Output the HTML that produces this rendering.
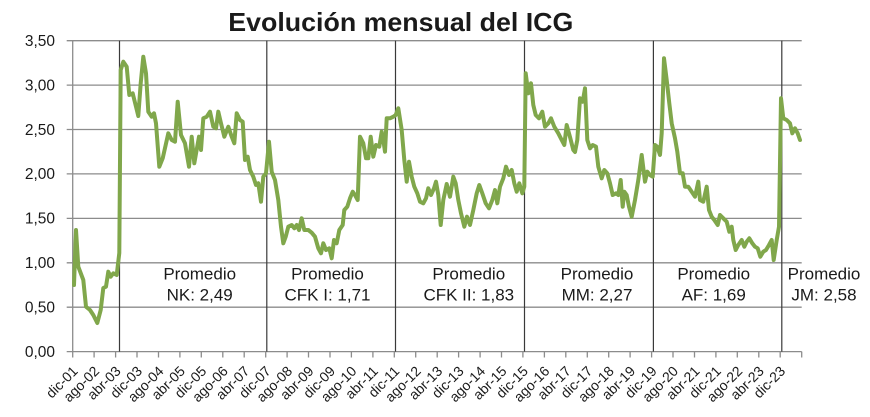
<!DOCTYPE html>
<html>
<head>
<meta charset="utf-8">
<style>
html,body{margin:0;padding:0;background:#fff;}
svg{display:block;}
text{font-family:"Liberation Sans",sans-serif;fill:#1a1a1a;}
</style>
</head>
<body>
<svg width="870" height="417" viewBox="0 0 870 417" xmlns="http://www.w3.org/2000/svg">
<rect width="870" height="417" fill="#fff"/>
<text x="400.8" y="31" text-anchor="middle" font-size="26" font-weight="bold" textLength="345" lengthAdjust="spacingAndGlyphs" fill="#111">Evolución mensual del ICG</text>

<g stroke="#8c8c8c" stroke-width="1.3" fill="none">
<line x1="66.7" y1="40.7" x2="801.7" y2="40.7"/>
<line x1="66.7" y1="85.1" x2="801.7" y2="85.1"/>
<line x1="66.7" y1="129.5" x2="801.7" y2="129.5"/>
<line x1="66.7" y1="173.9" x2="801.7" y2="173.9"/>
<line x1="66.7" y1="218.4" x2="801.7" y2="218.4"/>
<line x1="66.7" y1="262.8" x2="801.7" y2="262.8"/>
<line x1="66.7" y1="307.2" x2="801.7" y2="307.2"/>
<line x1="66.7" y1="351.6" x2="801.7" y2="351.6"/>
<line x1="72.7" y1="40.7" x2="72.7" y2="351.6"/>
</g>

<g stroke="#8c8c8c" stroke-width="1.3">
<line x1="72.7" y1="351.6" x2="72.7" y2="357.5"/><line x1="94.1" y1="351.6" x2="94.1" y2="357.5"/><line x1="115.6" y1="351.6" x2="115.6" y2="357.5"/><line x1="137.0" y1="351.6" x2="137.0" y2="357.5"/><line x1="158.5" y1="351.6" x2="158.5" y2="357.5"/><line x1="179.9" y1="351.6" x2="179.9" y2="357.5"/><line x1="201.3" y1="351.6" x2="201.3" y2="357.5"/><line x1="222.8" y1="351.6" x2="222.8" y2="357.5"/><line x1="244.2" y1="351.6" x2="244.2" y2="357.5"/><line x1="265.7" y1="351.6" x2="265.7" y2="357.5"/><line x1="287.1" y1="351.6" x2="287.1" y2="357.5"/><line x1="308.5" y1="351.6" x2="308.5" y2="357.5"/><line x1="330.0" y1="351.6" x2="330.0" y2="357.5"/><line x1="351.4" y1="351.6" x2="351.4" y2="357.5"/><line x1="372.9" y1="351.6" x2="372.9" y2="357.5"/><line x1="394.3" y1="351.6" x2="394.3" y2="357.5"/><line x1="415.7" y1="351.6" x2="415.7" y2="357.5"/><line x1="437.2" y1="351.6" x2="437.2" y2="357.5"/><line x1="458.6" y1="351.6" x2="458.6" y2="357.5"/><line x1="480.1" y1="351.6" x2="480.1" y2="357.5"/><line x1="501.5" y1="351.6" x2="501.5" y2="357.5"/><line x1="522.9" y1="351.6" x2="522.9" y2="357.5"/><line x1="544.4" y1="351.6" x2="544.4" y2="357.5"/><line x1="565.8" y1="351.6" x2="565.8" y2="357.5"/><line x1="587.3" y1="351.6" x2="587.3" y2="357.5"/><line x1="608.7" y1="351.6" x2="608.7" y2="357.5"/><line x1="630.1" y1="351.6" x2="630.1" y2="357.5"/><line x1="651.6" y1="351.6" x2="651.6" y2="357.5"/><line x1="673.0" y1="351.6" x2="673.0" y2="357.5"/><line x1="694.5" y1="351.6" x2="694.5" y2="357.5"/><line x1="715.9" y1="351.6" x2="715.9" y2="357.5"/><line x1="737.3" y1="351.6" x2="737.3" y2="357.5"/><line x1="758.8" y1="351.6" x2="758.8" y2="357.5"/><line x1="780.2" y1="351.6" x2="780.2" y2="357.5"/><line x1="801.7" y1="351.6" x2="801.7" y2="357.5"/>
</g>

<g stroke="#3a3a3a" stroke-width="1.2">
<line x1="119.5" y1="40.7" x2="119.5" y2="351.6"/>
<line x1="266.8" y1="40.7" x2="266.8" y2="351.6"/>
<line x1="395.5" y1="40.7" x2="395.5" y2="351.6"/>
<line x1="524.5" y1="40.7" x2="524.5" y2="351.6"/>
<line x1="653.4" y1="40.7" x2="653.4" y2="351.6"/>
<line x1="781.8" y1="40.7" x2="781.8" y2="351.6"/>
</g>

<g font-size="15.5" text-anchor="end">
<text x="55" y="46">3,50</text>
<text x="55" y="90.4">3,00</text>
<text x="55" y="134.8">2,50</text>
<text x="55" y="179.2">2,00</text>
<text x="55" y="223.7">1,50</text>
<text x="55" y="268.1">1,00</text>
<text x="55" y="312.5">0,50</text>
<text x="55" y="356.9">0,00</text>
</g>

<g font-size="14" text-anchor="end">
<text transform="translate(78.7,372) rotate(-45)">dic-01</text>
<text transform="translate(100.1,372) rotate(-45)">ago-02</text>
<text transform="translate(121.6,372) rotate(-45)">abr-03</text>
<text transform="translate(143.0,372) rotate(-45)">dic-03</text>
<text transform="translate(164.5,372) rotate(-45)">ago-04</text>
<text transform="translate(185.9,372) rotate(-45)">abr-05</text>
<text transform="translate(207.3,372) rotate(-45)">dic-05</text>
<text transform="translate(228.8,372) rotate(-45)">ago-06</text>
<text transform="translate(250.2,372) rotate(-45)">abr-07</text>
<text transform="translate(271.7,372) rotate(-45)">dic-07</text>
<text transform="translate(293.1,372) rotate(-45)">ago-08</text>
<text transform="translate(314.5,372) rotate(-45)">abr-09</text>
<text transform="translate(336.0,372) rotate(-45)">dic-09</text>
<text transform="translate(357.4,372) rotate(-45)">ago-10</text>
<text transform="translate(378.9,372) rotate(-45)">abr-11</text>
<text transform="translate(400.3,372) rotate(-45)">dic-11</text>
<text transform="translate(421.7,372) rotate(-45)">ago-12</text>
<text transform="translate(443.2,372) rotate(-45)">abr-13</text>
<text transform="translate(464.6,372) rotate(-45)">dic-13</text>
<text transform="translate(486.1,372) rotate(-45)">ago-14</text>
<text transform="translate(507.5,372) rotate(-45)">abr-15</text>
<text transform="translate(528.9,372) rotate(-45)">dic-15</text>
<text transform="translate(550.4,372) rotate(-45)">ago-16</text>
<text transform="translate(571.8,372) rotate(-45)">abr-17</text>
<text transform="translate(593.3,372) rotate(-45)">dic-17</text>
<text transform="translate(614.7,372) rotate(-45)">ago-18</text>
<text transform="translate(636.1,372) rotate(-45)">abr-19</text>
<text transform="translate(657.6,372) rotate(-45)">dic-19</text>
<text transform="translate(679.0,372) rotate(-45)">ago-20</text>
<text transform="translate(700.5,372) rotate(-45)">abr-21</text>
<text transform="translate(721.9,372) rotate(-45)">dic-21</text>
<text transform="translate(743.3,372) rotate(-45)">ago-22</text>
<text transform="translate(764.8,372) rotate(-45)">abr-23</text>
<text transform="translate(786.2,372) rotate(-45)">dic-23</text>
</g>

<g font-size="17" text-anchor="middle">
<text x="199.7" y="279.5">Promedio</text><text x="199.7" y="300.5">NK: 2,49</text>
<text x="327.5" y="279.5">Promedio</text><text x="327.5" y="300.5">CFK I: 1,71</text>
<text x="468.8" y="279.5">Promedio</text><text x="468.8" y="300.5">CFK II: 1,83</text>
<text x="597" y="279.5">Promedio</text><text x="597" y="300.5">MM: 2,27</text>
<text x="713.7" y="279.5">Promedio</text><text x="713.7" y="300.5">AF: 1,69</text>
<text x="824" y="279.5">Promedio</text><text x="824" y="300.5">JM: 2,58</text>
</g>

<polyline fill="none" stroke="#80a74b" stroke-width="4" stroke-linejoin="round" stroke-linecap="round" points="
74,285 76,230 78.3,266.7 83.3,280 86,306.7 90,310 93.3,315 97.3,323 100.7,310 103.3,288 106,286.7 108.3,271.7 110.7,276.7 113.3,273.3 116.7,275 119.3,253 120.7,70 123.3,61.7 126.7,66.7 129.3,95 132.7,93.3 136,106.7 138.3,116 140.7,83.3 143.3,56.7 146,73.3 148.3,111.7 151.7,116.7 154,113.3 156,123.3 159.3,166.7 162.7,158.3 168.3,133.3 171.7,140 175,141.7 177.7,101.7 181,135 185,143.3 189,166.7 191.7,136.7 194.3,163.3
199,136.7 201,150 203.3,118.3 206.7,116.7 210,111.7 213.3,126.7 216,128.3 218.3,111.7 221,123.3 224.3,136.7 228.3,126.7 231.7,136.7 234.3,143.3 236.7,113.3 240,120 242.7,121.7 245,160 247.7,156.7 250,170 253.3,176.7 256,185 258.3,183.3 261,201.7 263.3,176.7 266,173.3 269,141.7 271.7,171.7 275,180 278.3,200 281,226.7 283.3,243.3 285.7,236.7 288.3,226.7 291.7,225 294.3,228.3 296.7,225 299,230 301.7,218.3 304.3,230 308.3,230 311.7,232.7 315,236.7 318.3,248.3 321,253.3
323.3,243.3 326,250 329.3,248.3 331.7,258.3 334,240 336.7,243.3 339.3,230 342.7,225 344.3,210 347.3,206.7 350,198.3 352.7,191.7 355,195 357.7,200 360,136.7 363.3,143.3 366,158.3 368.3,158.3 370.7,136.7 373.3,156.7 376,145 379.3,146.7 381.7,131.7 383.3,140 385,151.7 386.7,118.3 390,118.3 393.3,116.7 395.7,115 398.3,108.3 401.7,130 404.3,160 406.7,181.7 409,161.7 411.7,176.7 414.3,186.7 417.3,193.3 420,201.7 423.3,203.3 426,198.3 428.3,188.3 431,195 434,188.3 436,181.7 438.3,195 440.7,225 443.3,200 446.7,184
450,196.7 453.3,176.7 455.7,183.3 458.3,200 461,213.3 464.3,226.7 467,216.7 470,225 473.3,210 476.7,193.3 479.3,185 482.3,193.3 485.7,203.3 489,208.3 492.3,200 495,190 497.3,203.3 500,186.7 503.3,178.3 506,166.7 509,175 511.7,170 514.3,183.3 516.7,191.7 519.3,183.3 522.3,193.3 524.3,186.7 525.7,73.3 528.3,93.3 531,83.3 533.3,105 535.7,115 539,118.3 542.3,111.7 545,126.7 548.3,123.3 551,118.3 554.3,126.7 558.3,133.3 561.7,140 564.3,145 566.7,125 570,137 573.3,150
575,152 577.3,140 580,98.3 582.7,101.7 585,88.3 587.3,140 590,148.3 592.7,145 596,146.7 598.3,166.7 601.7,178.3 604.3,170 607.3,173.3 610,183.3 612.7,195 616,193.3 618.3,195 620.7,180 622.7,206.7 624.3,191.7 626.7,195 629,206.7 631.7,216.7 635,200 638.3,180 641.7,155 645,181.7 647.3,171.7 650,175 652.7,176.7 655,145 657.3,146.7 660,155 661.7,133.3 664,58.3 666.7,80 669.3,103.3 671.7,123.3 675,138.3 677.3,151.7 680,173.3 682.7,173.3 685,186.7 688.3,186.7 691.7,191.7 695,196.7 698.3,181.7
700,200 703.3,201.7 706.7,186.7 709,210 711.7,216.7 714.3,220 717.7,225 720,215 723.3,218.3 726.7,221.7 729.3,231.7 731.7,226.7 733.3,240 735.7,250 738.3,245 741.7,240 744.3,246.7 746.7,241.7 749.3,238.3 752.3,243.3 755,246.7 757.7,248.3 760.3,256.7 763.3,251.7 766,250 769,245 771.7,240 773.7,260 776.7,240 779,226.7 781,98.3 783.3,118.3 786.7,120 790,123.3 792.3,133.3 795,128.3 797.7,133.3 800,140"/>
</svg>
</body>
</html>
